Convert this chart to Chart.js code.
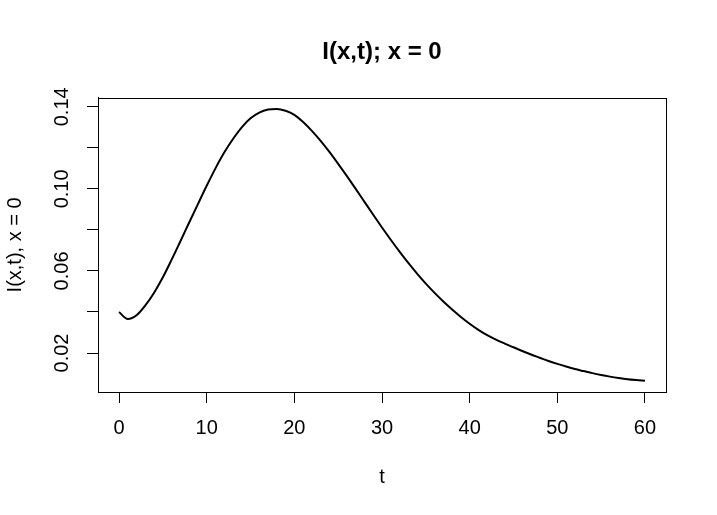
<!DOCTYPE html>
<html>
<head>
<meta charset="utf-8">
<script src="https://cdn.jsdelivr.net/npm/chart.js@4/dist/chart.umd.min.js"></script>
<style>
  html, body { margin: 0; padding: 0; background: #fff; }
  canvas { display: block; }
</style>
</head>
<body>
<canvas id="chart" width="717" height="515"></canvas>
<script>
// Data (time t, I(x,t) at x = 0)
const tValues = [
  0, 1, 2, 3, 4, 5, 6, 7, 8, 9,
  10, 11, 12, 13, 14, 15, 16, 17, 18, 19,
  20, 21, 22, 23, 24, 25, 26, 27, 28, 29,
  30, 31, 32, 33, 34, 35, 36, 37, 38, 39,
  40, 41, 42, 43, 44, 45, 46, 47, 48, 49,
  50, 51, 52, 53, 54, 55, 56, 57, 58, 59,
  60
];
const iValues = [
  0.0400, 0.0366, 0.0384, 0.0432, 0.0494, 0.0569, 0.0655, 0.0745, 0.0836, 0.0926,
  0.1015, 0.1100, 0.1177, 0.1243, 0.1300, 0.1344, 0.1372, 0.1387, 0.1390, 0.1381,
  0.1361, 0.1326, 0.1283, 0.1234, 0.1180, 0.1122, 0.1062, 0.1000, 0.0937, 0.0874,
  0.0812, 0.0752, 0.0694, 0.0639, 0.0587, 0.0538, 0.0493, 0.0451, 0.0412, 0.0376,
  0.0343, 0.0313, 0.0287, 0.0265, 0.0246, 0.0228, 0.0210, 0.0193, 0.0177, 0.0161,
  0.0147, 0.0134, 0.0122, 0.0112, 0.0102, 0.0093, 0.0085, 0.0078, 0.0072, 0.0068,
  0.0065
];

// Axis ticks, R style (every y tick drawn, only alternate ones labelled)
const xTicks = [0, 10, 20, 30, 40, 50, 60];
const yTicks = [0.02, 0.04, 0.06, 0.08, 0.10, 0.12, 0.14];
const yLabelled = [0.02, 0.06, 0.10, 0.14];

const fontFamily = '"Liberation Sans", Arial, sans-serif';

// Draws the full box around the plot region, like R's box()
const plotBox = {
  id: 'plotBox',
  afterDraw(chart) {
    const { ctx, chartArea: a } = chart;
    ctx.save();
    ctx.strokeStyle = '#000';
    ctx.lineWidth = 1;
    ctx.strokeRect(Math.round(a.left) + 0.5, Math.round(a.top) + 0.5,
      Math.round(a.right - a.left), Math.round(a.bottom - a.top));
    ctx.restore();
  }
};

new Chart(document.getElementById('chart').getContext('2d'), {
  type: 'line',
  data: {
    datasets: [{
      data: tValues.map((t, i) => ({ x: t, y: iValues[i] })),
      borderColor: '#000',
      borderWidth: 2,
      pointRadius: 0,
      fill: false,
      cubicInterpolationMode: 'monotone',
    }]
  },
  options: {
    responsive: false,
    animation: false,
    devicePixelRatio: 1,
    layout: { padding: { left: 0, right: 51, top: 0, bottom: 0 } },
    plugins: {
      legend: { display: false },
      tooltip: { enabled: false },
      title: {
        display: true,
        fullSize: false, // centre over the plot region, as R does
        text: 'I(x,t); x = 0',
        color: '#000',
        font: { family: fontFamily, size: 24, weight: 'bold', lineHeight: 1.2 },
        padding: { top: 38, bottom: 31 },
      },
    },
    scales: {
      x: {
        type: 'linear',
        min: -2.4,
        max: 62.4,
        afterBuildTicks: (scale) => { scale.ticks = xTicks.map(v => ({ value: v })); },
        afterFit: (scale) => { scale.height = 123; },
        ticks: {
          autoSkip: false,
          maxRotation: 0,
          color: '#000',
          padding: 13,
          font: { family: fontFamily, size: 20 },
          callback: (v) => String(v),
        },
        grid: { drawOnChartArea: false, drawTicks: true, tickLength: 11, color: '#000' },
        border: { display: true, color: '#000', width: 1 },
        title: {
          display: true,
          text: 't',
          color: '#000',
          font: { family: fontFamily, size: 20 },
          padding: { top: 0, bottom: 26 },
        },
      },
      y: {
        type: 'linear',
        min: 0.001,
        max: 0.1444,
        afterBuildTicks: (scale) => { scale.ticks = yTicks.map(v => ({ value: v })); },
        afterFit: (scale) => { scale.width = 98; },
        ticks: {
          autoSkip: false,
          minRotation: 90,
          maxRotation: 90,
          crossAlign: 'center',
          color: '#000',
          padding: 5,
          font: { family: fontFamily, size: 20 },
          callback: (v) => yLabelled.some(l => Math.abs(l - v) < 1e-9) ? v.toFixed(2) : '',
        },
        grid: { drawOnChartArea: false, drawTicks: true, tickLength: 11, color: '#000' },
        border: { display: true, color: '#000', width: 1 },
        title: {
          display: true,
          text: 'I(x,t), x = 0',
          color: '#000',
          font: { family: fontFamily, size: 20 },
          padding: { top: 3, bottom: 0 },
        },
      },
    },
  },
  plugins: [plotBox],
});
</script>
</body>
</html>
